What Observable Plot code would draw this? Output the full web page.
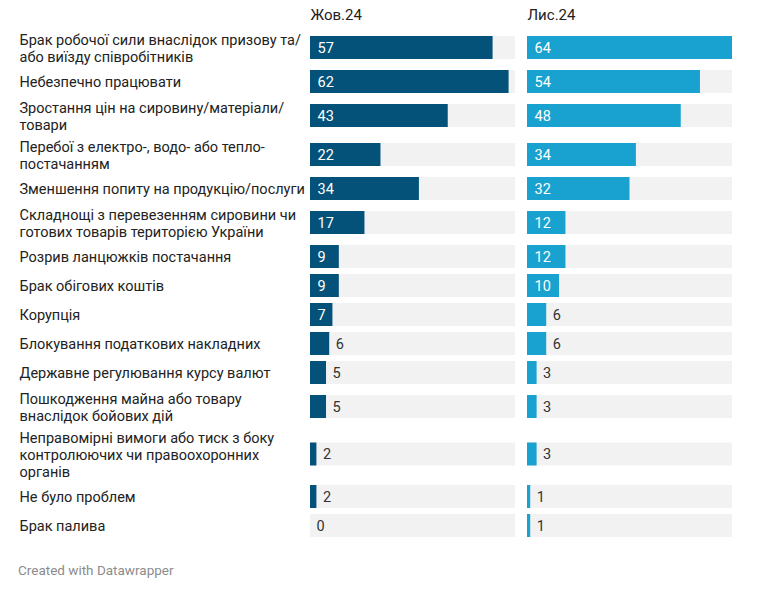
<!DOCTYPE html>
<html>
<head>
<meta charset="utf-8">
<script src="https://cdn.jsdelivr.net/npm/d3@7"></script>
<script src="https://cdn.jsdelivr.net/npm/@observablehq/plot@0.6"></script>
<style>
  body { margin: 0; background: #fff; font-family: Roboto, "Noto Sans", sans-serif; }
  #chart svg { display: block; }
  .credit { margin: 14px 0 0 18px; font-size: 13.5px; color: #8c8c8c; font-family: Roboto, sans-serif; }
</style>
</head>
<body>
<div id="chart"></div>
<div class="credit">Created with Datawrapper</div>
<script>
const months = ["Жов.24", "Лис.24"];
const categories = [
  "Брак робочої сили внаслідок призову та/\nабо виїзду співробітників",
  "Небезпечно працювати",
  "Зростання цін на сировину/матеріали/\nтовари",
  "Перебої з електро-, водо- або тепло-\nпостачанням",
  "Зменшення попиту на продукцію/послуги",
  "Складнощі з перевезенням сировини чи\nготових товарів територією України",
  "Розрив ланцюжків постачання",
  "Брак обігових коштів",
  "Корупція",
  "Блокування податкових накладних",
  "Державне регулювання курсу валют",
  "Пошкодження майна або товару\nвнаслідок бойових дій",
  "Неправомірні вимоги або тиск з боку\nконтролюючих чи правоохоронних\nорганів",
  "Не було проблем",
  "Брак палива"
];
const oct24 = [57, 62, 43, 22, 34, 17, 9, 9, 7, 6, 5, 5, 2, 2, 0];
const nov24 = [64, 54, 48, 34, 32, 12, 12, 10, 6, 6, 3, 3, 3, 1, 1];

// layout: row heights depend on number of label lines
const lineH = 17, barH = 23, rowPad = 5;
let acc = 0;
const rows = categories.map((label, i) => {
  const lines = label.split("\n").length;
  const h = Math.max(24, lines * lineH) + rowPad;
  const center = acc + h / 2;
  acc += h;
  return {label, i, center};
});
const totalH = acc;

const data = [];
rows.forEach(r => {
  data.push({month: months[0], value: oct24[r.i], center: r.center});
  data.push({month: months[1], value: nov24[r.i], center: r.center});
});
const xMax = d3.max(data, d => d.value);

const marginTop = 28;
const chart = Plot.plot({
  width: 764,
  height: marginTop + totalH + 8,
  marginTop,
  marginBottom: 8,
  marginLeft: 309,
  marginRight: 31,
  style: {fontFamily: "Roboto, sans-serif", fontSize: "14.5px", color: "#333"},
  fx: {domain: months, axis: null, paddingInner: 0.055, paddingOuter: 0},
  x: {domain: [0, xMax], axis: null},
  y: {domain: [0, totalH], range: [marginTop, marginTop + totalH], axis: null},
  color: {domain: months, range: ["#04527a", "#19a2cf"]},
  marks: [
    Plot.rect(data, {fx: "month", x1: 0, x2: xMax, y1: d => d.center - barH / 2, y2: d => d.center + barH / 2, fill: "#f2f2f2"}),
    Plot.rect(data, {fx: "month", x1: 0, x2: "value", y1: d => d.center - barH / 2, y2: d => d.center + barH / 2, fill: "month"}),
    Plot.text(data.filter(d => d.value >= 7), {fx: "month", x: 0, y: "center", text: d => String(d.value), textAnchor: "start", dx: 7, fill: "white", fontSize: 14.5}),
    Plot.text(data.filter(d => d.value < 7), {fx: "month", x: "value", y: "center", text: d => String(d.value), textAnchor: "start", dx: 6, fill: "#333", fontSize: 14.5}),
    Plot.text(rows, {fx: () => months[0], x: 0, y: "center", text: "label", textAnchor: "start", dx: -291, lineHeight: lineH / 14.5, fill: "#222", fontSize: 14.5}),
    Plot.text(months, {fx: d => d, frameAnchor: "top-left", text: d => d, lineAnchor: "bottom", dy: -9, fill: "#222", fontSize: 15})
  ]
});
document.getElementById("chart").appendChild(chart);
</script>
</body>
</html>
